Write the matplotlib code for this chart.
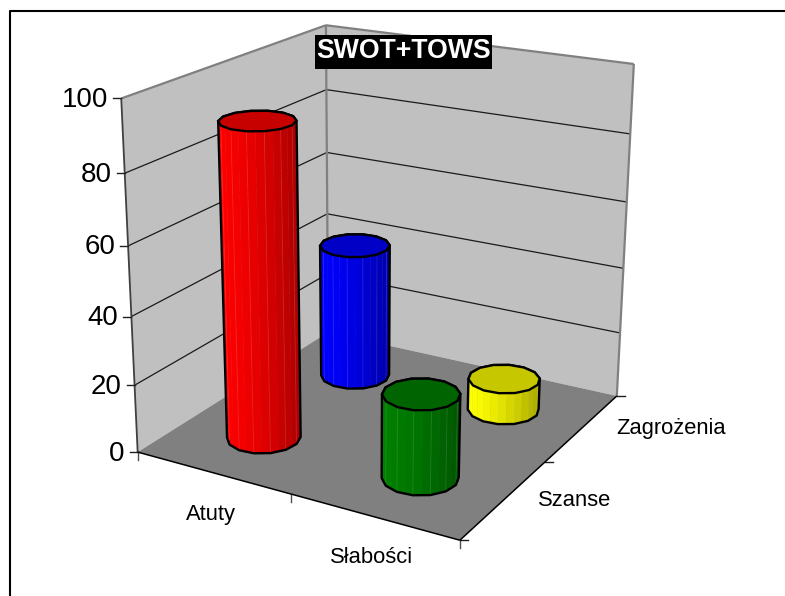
import numpy as np
import matplotlib
matplotlib.use('Agg')
import matplotlib.pyplot as plt
from matplotlib.patches import Polygon, Rectangle

plt.rcParams['font.family'] = ['Liberation Sans', 'DejaVu Sans']

# data
title = 'SWOT+TOWS'
categories = ['Atuty', 'Słabości']
series = ['Szanse', 'Zagrożenia']
value_ticks = [0, 20, 40, 60, 80, 100]
front_values = [91.5, 24.3]   # Szanse row
back_values = [41.5, 9.6]     # Zagrożenia row
front_colors = ['#ff0000', '#008000']
back_colors = ['#0000ff', '#ffff00']

# camera calibration: box point (x, y, z) -> pixel in the picture
box_3d = [(0, 0, 0), (2, 0, 0), (2, 2, 0), (0, 2, 0), (0, 0, 100), (0, 2, 100), (2, 2, 100),
          (0, 0, 80), (0, 0, 40), (0, 2, 80), (0, 2, 40), (2, 2, 80), (2, 2, 40), (1, 0, 0), (2, 1, 0)]
box_px = [(138, 452), (460.5, 540), (617.7, 395.7), (327, 332), (120, 98.3), (327, 24), (633.7, 63.7),
          (125, 174), (132, 316), (327, 90.7), (327, 214.3), (629.3, 134.3), (623.3, 268.3), (290, 494), (545, 462.3)]


def fit_camera(pts, px):
    rows = []
    for (x, y, z), (u, v) in zip(pts, px):
        z = z / 100
        rows.append([x, y, z, 1, 0, 0, 0, 0, -u * x, -u * y, -u * z, -u])
        rows.append([0, 0, 0, 0, x, y, z, 1, -v * x, -v * y, -v * z, -v])
    return np.linalg.svd(np.array(rows))[2][-1].reshape(3, 4)


cam = fit_camera(box_3d, box_px)


def proj(x, y, z):
    h = cam @ np.array([x, y, z / 100, 1.0])
    return h[0] / h[2], h[1] / h[2]


fig = plt.figure(figsize=(7.85, 5.96), dpi=100)
ax = fig.add_axes([0, 0, 1, 1])
ax.set_xlim(0, 785)
ax.set_ylim(596, 0)
ax.axis('off')

# chart frame, runs off the picture on the right and the bottom
ax.plot([10, 10, 800], [610, 10.5, 10.5], color='black', lw=1.5)


def face(pts, color):
    ax.add_patch(Polygon([proj(*p) for p in pts], closed=True, fc=color, ec='none', zorder=1))


def seg(a, b, color='black', lw=1.0, z=2):
    pa, pb = proj(*a), proj(*b)
    ax.plot([pa[0], pb[0]], [pa[1], pb[1]], color=color, lw=lw, zorder=z, solid_capstyle='butt')


face([(0, 0, 0), (0, 2, 0), (0, 2, 100), (0, 0, 100)], '#c0c0c0')
face([(0, 2, 0), (2, 2, 0), (2, 2, 100), (0, 2, 100)], '#c0c0c0')
face([(0, 0, 0), (2, 0, 0), (2, 2, 0), (0, 2, 0)], '#808080')

# gridlines
for v in value_ticks[1:-1]:
    seg((0, 0, v), (0, 2, v), '#1a1a1a', 0.9)
    seg((0, 2, v), (2, 2, v), '#1a1a1a', 0.9)

# wall edges
seg((0, 0, 100), (0, 2, 100), '#808080', 1.6)
seg((0, 2, 100), (2, 2, 100), '#808080', 1.6)
seg((0, 2, 0), (0, 2, 100), '#808080', 1.6)
seg((2, 2, 0), (2, 2, 100), '#808080', 1.6)
seg((0, 0, 0), (0, 0, 100), '#404040', 1.3)
seg((0, 0, 0), (2, 0, 0), 'black', 1.1, 3)
seg((2, 0, 0), (2, 2, 0), 'black', 1.1, 3)

# ticks and labels
for v in value_ticks:
    px, py = proj(0, 0, v)
    ax.plot([px - 8, px], [py, py], color='#202020', lw=1.0, zorder=2)
    ax.text(px - 13, py + 1.5, str(v), ha='right', va='center', fontsize=19.9)
for i in range(len(categories) + 1):
    px, py = proj(i, 0, 0)
    ax.plot([px, px], [py, py + 8], color='#505050', lw=1.0, zorder=2)
for i in range(len(series) + 1):
    px, py = proj(2, i, 0)
    ax.plot([px, px + 8], [py, py], color='#202020', lw=1.0, zorder=2)
for i, name in enumerate(categories):
    px, py = proj(i + 0.5, 0, 0)
    ax.text(px - 1.5, py + 41.5, name, ha='center', va='center', fontsize=15.8)
for i, name in enumerate(series):
    px, py = proj(2, i + 0.5, 0)
    ax.text(px + 34, py + 1, name, ha='left', va='center', fontsize=15.8)

ax.add_patch(Rectangle((315, 35), 177, 34, fc='black', ec='none', zorder=10))
ax.text(403.5, 51.5, title, ha='center', va='center', fontsize=19.2, fontweight='bold', color='white', zorder=11)


def darker(color, k):
    return tuple(np.array(matplotlib.colors.to_rgb(color)) * k)


def hull(points):
    pts = sorted(map(tuple, points))

    def half(seq):
        out = []
        for p in seq:
            while len(out) > 1 and ((out[-1][0] - out[-2][0]) * (p[1] - out[-2][1])
                                    - (out[-1][1] - out[-2][1]) * (p[0] - out[-2][0])) <= 0:
                out.pop()
            out.append(p)
        return out[:-1]

    return np.array(half(pts) + half(pts[::-1]))


def cylinder(cx, cy, value, color, z, r=0.206, n=28):
    ang = np.linspace(0, 2 * np.pi, n + 1) + 0.09
    xs = cx + r * np.cos(ang)
    ys = cy + r * np.sin(ang)
    top = np.array([proj(a, b, value) for a, b in zip(xs, ys)])
    bot = np.array([proj(a, b, 0) for a, b in zip(xs, ys)])
    rim = top[:-1][::2]
    vis = []
    for i in range(n):
        quad = np.array([bot[i], bot[i + 1], top[i + 1], top[i]])
        x, y = quad[:, 0], quad[:, 1]
        area = 0.5 * np.sum(x * np.roll(y, -1) - np.roll(x, -1) * y)
        if area < 0:
            vis.append((quad, x.mean()))
    xmin = min(q[:, 0].min() for q, _ in vis)
    xmax = max(q[:, 0].max() for q, _ in vis)
    for j, (quad, mid) in enumerate(sorted(vis, key=lambda t: t[1])):
        t = (mid - xmin) / (xmax - xmin)
        c = darker(color, 1.0 - 0.34 * t ** 1.5)
        ax.add_patch(Polygon(quad, closed=True, fc=c, ec=c, lw=0.3, zorder=z))
        if j % 2 == 0:
            ax.plot(quad[[0, 3], 0], quad[[0, 3], 1], color='white', alpha=0.1, lw=0.7, zorder=z + 0.1)
    ax.add_patch(Polygon(hull(np.vstack([rim, bot[:-1][::2]])), closed=True, fc='none', ec='black', lw=1.7,
                         zorder=z + 0.2))
    ax.add_patch(Polygon(rim, closed=True, fc=darker(color, 0.78), ec='black', lw=1.7, zorder=z + 0.3))


# back row first, then front row
for i, (val, col) in enumerate(zip(back_values, back_colors)):
    cylinder(i + 0.5, 1.5, val, col, 4 + i)
for i, (val, col) in enumerate(zip(front_values, front_colors)):
    cylinder(i + 0.5, 0.5, val, col, 6 + i)

fig.savefig('out.png', dpi=100)
